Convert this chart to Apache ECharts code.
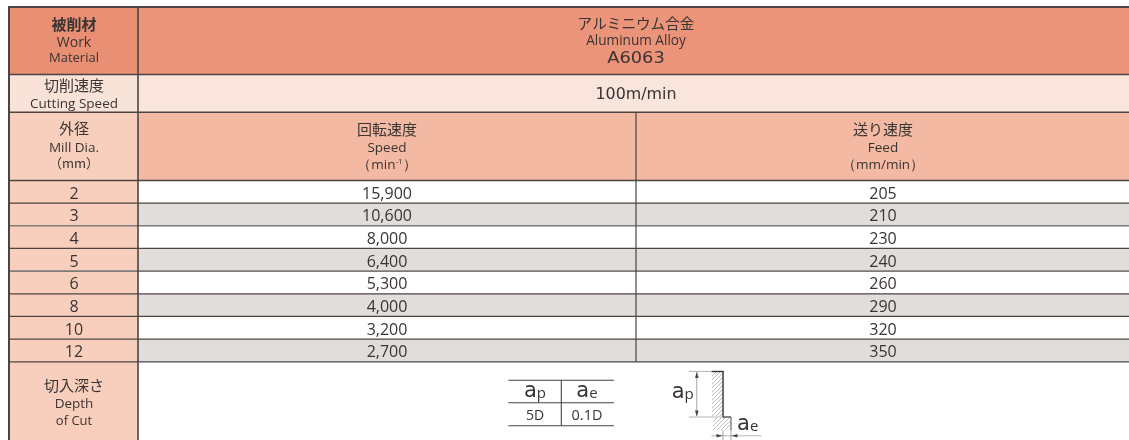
<!DOCTYPE html>
<html><head><meta charset="utf-8">
<style>html,body{margin:0;padding:0;background:#fff}#c{width:1129px;height:440px}</style>
<script src="https://cdn.jsdelivr.net/npm/echarts@6/dist/echarts.min.js"></script>
</head><body><div id="c"></div>
<script>
const diameters = [2, 3, 4, 5, 6, 8, 10, 12];
const speeds = [15900, 10600, 8000, 6400, 5300, 4000, 3200, 2700];
const feeds = [205, 210, 230, 240, 260, 290, 320, 350];
const apValue = '5D';
const aeValue = '0.1D';

// ---- layout in axis units (the axes span the page) ----
const W = 1129, H = 440;
const colX = [9, 138, 636, W];
const rowTop = 7, row1 = 74.4, row2 = 112.3, row3 = 180.4, rowsEnd = 361.8;
const rowH = (rowsEnd - row3) / diameters.length;
const LINE = '#4b4443', SOFT = '#7f7a78', TXT = '#3a3433', DIM = '#9a9a9a';
const JP = '"Noto Sans CJK JP"', EN = '"Open Sans"', WIDE = '"DejaVu Sans"';

const cells = [];
const lines = [];
const texts = [];
const polys = [];
const cell = (x0, x1, y0, y1, fill) => cells.push({x0, x1, y0, y1, fill});
const line = (x0, y0, x1, y1, w, color) => lines.push({x0, y0, x1, y1, w: w || 1.4, color: color || LINE});
const text = (x, y, s, size, font, extra) => texts.push(Object.assign({x, y: y + (font === EN ? 0.8 : font === JP ? -0.8 : 0), s, size, font, weight: 400}, extra || {}));

// fills
cell(colX[0], colX[1], rowTop, row1, '#E98F74');
cell(colX[1], W, rowTop, row1, '#EB947A');
cell(colX[0], colX[1], row1, row2, '#F9E3D9');
cell(colX[1], W, row1, row2, '#F9E5DC');
cell(colX[0], colX[1], row2, row3, '#F8CFBD');
cell(colX[1], W, row2, row3, '#F3B9A3');
diameters.forEach((d, i) => {
  const y = row3 + i * rowH;
  cell(colX[0], colX[1], y, y + rowH, '#F8CFBD');
  if (i % 2 === 1) cell(colX[1], W, y, y + rowH, '#E1DDDA');
});
cell(colX[0], colX[1], rowsEnd, H, '#F8CFBD');

// rules
line(colX[0] - 1, rowTop, W, rowTop, 2);
[row1, row2, row3].forEach(y => line(colX[0], y, W, y, 1.5));
diameters.forEach((d, i) => {
  const soft = i === 1 || i === 3;
  line(colX[0], row3 + (i + 1) * rowH, W, row3 + (i + 1) * rowH, soft ? 1.6 : 1.2, soft ? SOFT : LINE);
});
line(colX[0], rowTop, colX[0], H, 2);
line(colX[1], rowTop, colX[1], H, 1.6);
line(colX[2], row2, colX[2], rowsEnd, 1.2);

// header text
const cx0 = 74, cxM = 636, cxS = 387, cxF = 883;
text(cx0, 25, '被削材', 15, JP, {weight: 700});
text(cx0, 42, 'Work', 14, EN);
text(cx0, 57, 'Material', 13, EN);
text(cx0, 86, '切削速度', 15, JP);
text(cx0, 103, 'Cutting Speed', 13.5, EN);
text(cx0, 129, '外径', 15, JP);
text(cx0, 147, 'Mill Dia.', 13.5, EN);
text(cx0, 164, '（mm）', 13, JP);
text(cxM, 24, 'アルミニウム合金', 14.6, JP);
text(cxM, 40.5, 'Aluminum Alloy', 13.6, EN);
text(cxM, 58.5, 'A6063', 15.5, WIDE, {sx: 1.15});
text(cxM, 95, '100m/min', 15, WIDE, {sx: 1.06});
[[cxS, '回転速度', 'Speed'], [cxF, '送り速度', 'Feed']].forEach(h => {
  text(h[0], 130, h[1], 15, JP);
  text(h[0], 147.5, h[2], 13.5, EN);
});
text(cxS, 164, '（min{u|-1}）', 13.5, EN, {rich: {u: {fontFamily: EN, fontSize: 8, fill: TXT, verticalAlign: 'top', lineHeight: 12, padding: [0, 0, 5, 0]}}});
text(cxF, 164, '（mm/min）', 13.5, EN);

// body rows
diameters.forEach((d, i) => {
  const y = row3 + (i + 0.5) * rowH + 1.6;
  text(cx0, y, String(d), 16, EN);
  text(cxS, y, speeds[i].toLocaleString('en-US'), 16, EN);
  text(cxF, y, String(feeds[i]), 16, EN);
});
text(cx0, 386, '切入深さ', 15, JP);
text(cx0, 403, 'Depth', 13.5, EN);
text(cx0, 420, 'of Cut', 13, EN);

// ap / ae mini table
[380.3, 402.7, 425.7].forEach(y => line(508.3, y, 614, y, 1.1, '#444'));
line(561.3, 380.3, 561.3, 425.7, 1.1, '#444');
const sym = (x, y, sub) => text(x, y, '{a|a}{s|' + sub + '}', 14, WIDE, {rich: {
  a: {fontFamily: WIDE, fontSize: 21, fill: TXT, lineHeight: 24},
  s: {fontFamily: EN, fontSize: 15, fill: TXT, lineHeight: 24, padding: [4, 0, 0, 0]}
}});
sym(535, 392, 'p');
sym(587, 392, 'e');
text(535, 415.5, apValue, 14, EN);
text(587, 415.5, aeValue, 14.5, EN);

// depth-of-cut sketch
function hatch(x0, y0, x1, y1, step) {
  for (let c = x0 + y0 + step; c < x1 + y1; c += step) {
    const ax = Math.max(x0, c - y1), ay = c - ax;
    const bx = Math.min(x1, c - y0), by = c - bx;
    line(ax, ay, bx, by, 0.8, '#b0b0b0');
  }
}
hatch(712, 372, 723, 416, 4);
hatch(713, 418, 730, 430, 4);
line(689, 371.4, 711, 371.4, 1, '#b5b5b5');
line(711.5, 371.5, 723.5, 371.5, 1.4, '#333');
line(723, 371, 723, 417.5, 1.4, '#333');
line(723, 417, 731, 417, 1.2, '#333');
line(731, 417, 731, 430, 1.2, '#666');
line(689, 417, 723, 417, 1, '#b5b5b5');
line(696.8, 372, 696.8, 416, 0.9, DIM);
polys.push([[696.8, 372], [695, 378], [698.6, 378]], [[696.8, 416.5], [695, 410.5], [698.6, 410.5]]);
line(711.5, 435.8, 761.5, 435.8, 1, '#b5b5b5');
line(723, 430, 723, 440, 0.9, DIM);
line(731, 430, 731, 440, 0.9, DIM);
polys.push([[722.5, 435.8], [716.5, 434], [716.5, 437.6]], [[731.5, 435.8], [737.5, 434], [737.5, 437.6]]);
sym(682.7, 392.7, 'p');
sym(747.7, 425, 'e');

// ---- drawing ----
const chart = echarts.init(document.getElementById('c'), null, {renderer: 'canvas'});
const P = (api, x, y) => api.coord([x, y]);
chart.setOption({
  animation: false,
  backgroundColor: '#fff',
  grid: {left: 0, right: 0, top: 0, bottom: 0},
  xAxis: {type: 'value', min: 0, max: W, show: false},
  yAxis: {type: 'value', min: 0, max: H, inverse: true, show: false},
  tooltip: {show: false},
  series: [
    {
      type: 'custom', name: 'cells', silent: true, clip: false, z: 1,
      data: cells.map(c => [c.x0, c.y0]),
      renderItem(params, api) {
        const c = cells[params.dataIndex];
        const a = P(api, c.x0, c.y0), b = P(api, c.x1, c.y1);
        return {type: 'rect', shape: {x: a[0], y: a[1], width: b[0] - a[0], height: b[1] - a[1]}, style: {fill: c.fill}};
      }
    },
    {
      type: 'custom', name: 'rules', silent: true, clip: false, z: 2,
      data: lines.map(l => [l.x0, l.y0]),
      renderItem(params, api) {
        const l = lines[params.dataIndex];
        const a = P(api, l.x0, l.y0), b = P(api, l.x1, l.y1);
        return {type: 'line', shape: {x1: a[0], y1: a[1], x2: b[0], y2: b[1]}, style: {stroke: l.color, lineWidth: l.w, fill: null}};
      }
    },
    {
      type: 'custom', name: 'arrows', silent: true, clip: false, z: 3,
      data: polys.map(p => p[0]),
      renderItem(params, api) {
        return {type: 'polygon', shape: {points: polys[params.dataIndex].map(p => P(api, p[0], p[1]))}, style: {fill: '#444'}};
      }
    },
    {
      type: 'custom', name: 'text', silent: true, clip: false, z: 4,
      data: texts.map(t => [t.x, t.y]),
      renderItem(params, api) {
        const t = texts[params.dataIndex];
        const a = P(api, t.x, t.y);
        return {
          type: 'text', x: a[0], y: a[1], scaleX: t.sx || 1, scaleY: 1,
          style: {
            text: t.s, x: 0, y: 0, align: 'center', verticalAlign: 'middle', fill: TXT,
            fontFamily: t.font, fontSize: t.size, fontWeight: t.weight || 400, rich: t.rich
          }
        };
      }
    }
  ]
});
</script></body></html>
